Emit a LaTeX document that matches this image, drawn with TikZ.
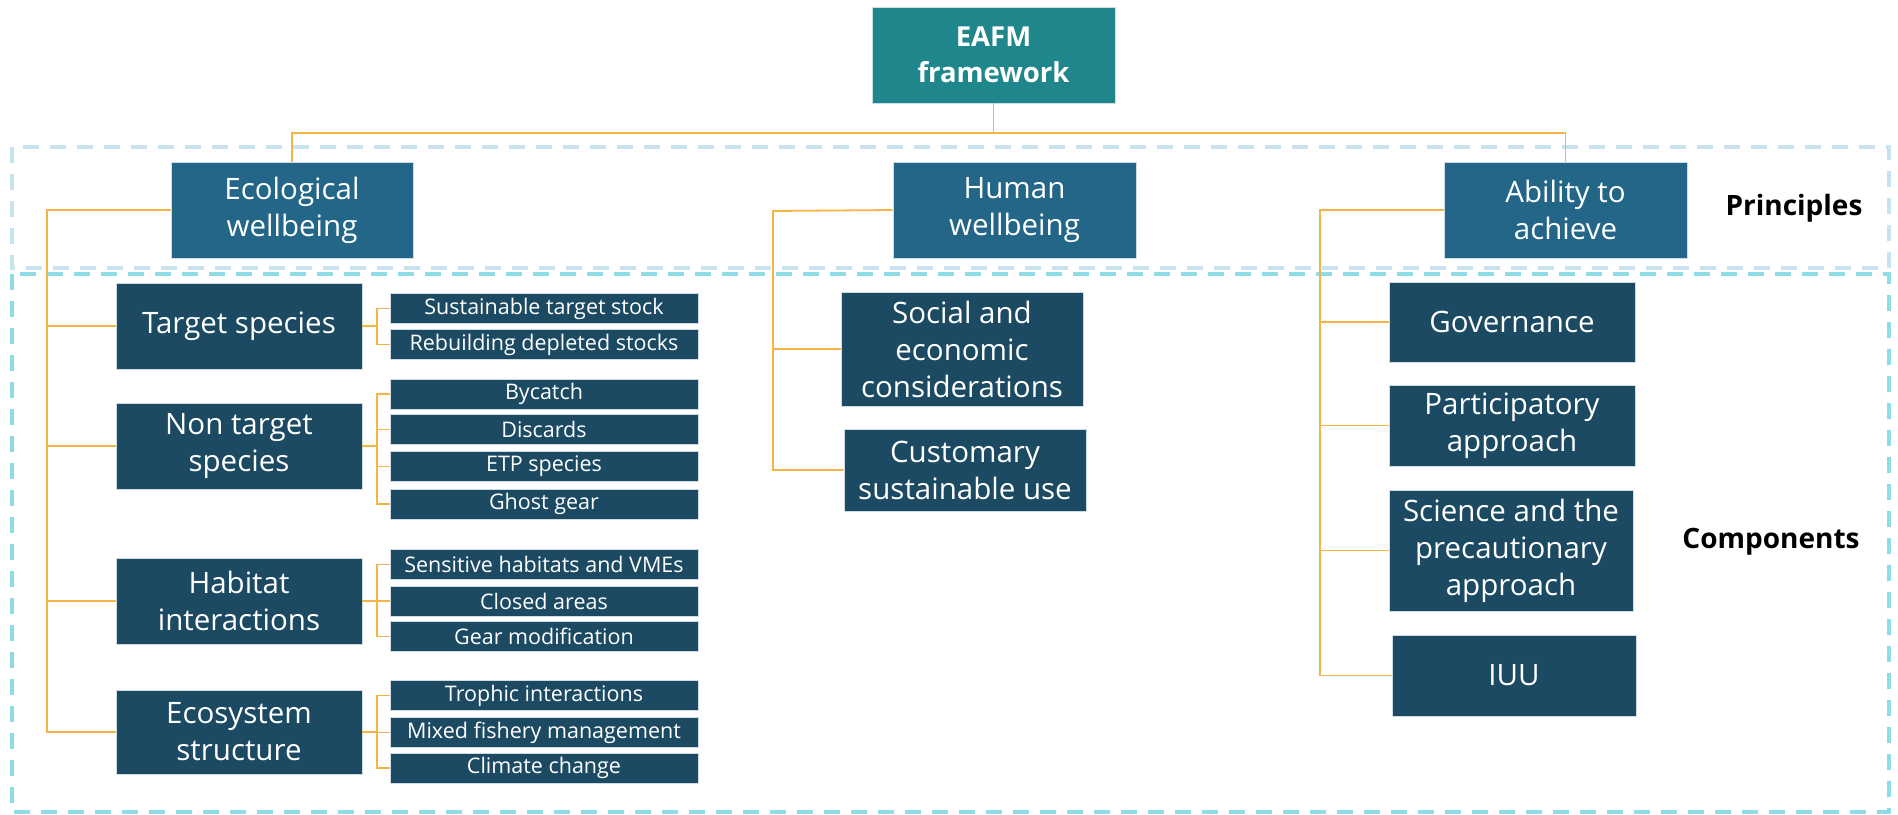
\documentclass[tikz,border=0pt]{standalone}
\usepackage{fontspec}
\setmainfont{Open Sans}
\usetikzlibrary{calc}
\definecolor{teal1}{HTML}{1F868C}
\definecolor{pblue}{HTML}{236688}
\definecolor{cblue}{HTML}{1C4A63}
\definecolor{orng}{HTML}{F7B446}
\definecolor{dashP}{HTML}{C8E2F0}
\definecolor{dashC}{HTML}{8EDCE6}
\definecolor{edge}{HTML}{CFDCE4}
\begin{document}
\begin{tikzpicture}[x=1pt,y=-1pt,
  boxbase/.style={draw=edge,line width=0.8pt,text=white,align=center,inner sep=0pt},
  topbox/.style={boxbase,fill=teal1,font=\fontsize{27.5}{36}\selectfont\bfseries},
  pbox/.style={boxbase,fill=pblue,font=\fontsize{29.5}{37}\selectfont},
  cbox/.style={boxbase,fill=cblue,font=\fontsize{29.5}{37}\selectfont},
  sbox/.style={boxbase,fill=cblue,font=\fontsize{21.5}{24}\selectfont,minimum width=308pt,minimum height=30pt},
  link/.style={draw=orng,line width=1.8pt},
  lab/.style={text=black,font=\fontsize{28}{32}\selectfont\bfseries}]
\useasboundingbox (0,0) rectangle (1898,814);
% dashed frames
\draw[dashP,line width=3.5pt,dash pattern=on 16pt off 11pt] (12,147) rectangle (1889,268);
\draw[dashC,line width=3.5pt,dash pattern=on 16pt off 11pt] (12,274) rectangle (1889,812);
% top
\node[topbox,minimum width=243pt,minimum height=96pt] (eafm) at (993.5,55) {EAFM\\framework};
% principles
\node[pbox,minimum width=242pt,minimum height=96pt] (eco) at (292,210) {Ecological\\wellbeing};
\node[pbox,minimum width=243pt,minimum height=96pt] (hum) at (1014.5,210) {Human\\wellbeing};
\node[pbox,minimum width=243pt,minimum height=96pt] (abl) at (1565.5,210) {Ability to\\achieve};
\node[lab] (princ) at (1794,208) {Principles};
\node[lab] (comp) at (1771,542) {Components};
% ecological components
\node[cbox,minimum width=246pt,minimum height=86pt] (t1) at (239,326) {Target species};
\node[cbox,minimum width=246pt,minimum height=86pt] (t2) at (239,446) {Non target\\species};
\node[cbox,minimum width=246pt,minimum height=86pt] (t3) at (239,601) {Habitat\\interactions};
\node[cbox,minimum width=246pt,minimum height=84pt] (t4) at (239,732) {Ecosystem\\structure};
\node[sbox] (s11) at (544,308.5) {Sustainable target stock};
\node[sbox] (s12) at (544,344.5) {Rebuilding depleted stocks};
\node[sbox] (s21) at (544,394) {Bycatch};
\node[sbox] (s22) at (544,429.5) {Discards};
\node[sbox] (s23) at (544,466.5) {ETP species};
\node[sbox] (s24) at (544,504) {Ghost gear};
\node[sbox] (s31) at (544,564.5) {Sensitive habitats and VMEs};
\node[sbox] (s32) at (544,601) {Closed areas};
\node[sbox] (s33) at (544,636.5) {Gear modification};
\node[sbox] (s41) at (544,695.5) {Trophic interactions};
\node[sbox] (s42) at (544,732.5) {Mixed fishery management};
\node[sbox] (s43) at (544,768) {Climate change};
% human components
\node[cbox,minimum width=242pt,minimum height=114pt] (h1) at (962,349) {Social and\\economic\\considerations};
\node[cbox,minimum width=242pt,minimum height=82pt] (h2) at (965,470) {Customary\\sustainable use};
% ability components
\node[cbox,minimum width=246pt,minimum height=80pt] (a1) at (1512,322) {Governance};
\node[cbox,minimum width=246pt,minimum height=81pt] (a2) at (1512,425.5) {Participatory\\approach};
\node[cbox,minimum width=244pt,minimum height=121pt] (a3) at (1511,550.5) {Science and the\\precautionary\\approach};
\node[cbox,minimum width=244pt,minimum height=81pt] (a4) at (1514,675.5) {IUU};
% connectors top
\coordinate (bar) at (993.5,133);
\draw[link] (eafm.south) -- (bar);
\draw[link] (eco.north) -- (eco.north |- bar) -- (abl.north |- bar) -- (abl.north);
% ecological trunk
\coordinate (ecoL) at (47,210);
\draw[link] (eco.west) -- (ecoL) -- (ecoL |- t4.west) -- (t4.west);
\foreach \n in {t1,t2,t3} \draw[link] (ecoL |- \n.west) -- (\n.west);
% brackets
\coordinate (br) at (377,0);
\draw[link] (t1.east) -- (br |- t1.east);
\draw[link] (s11.west) -- (br |- s11.west) -- (br |- s12.west) -- (s12.west);
\draw[link] (t2.east) -- (br |- t2.east);
\draw[link] (s21.west) -- (br |- s21.west) -- (br |- s24.west) -- (s24.west);
\foreach \n in {s22,s23} \draw[link] (br |- \n.west) -- (\n.west);
\draw[link] (t3.east) -- (br |- t3.east);
\draw[link] (s31.west) -- (br |- s31.west) -- (br |- s33.west) -- (s33.west);
\draw[link] (br |- s32.west) -- (s32.west);
\draw[link] (t4.east) -- (br |- t4.east);
\draw[link] (s41.west) -- (br |- s41.west) -- (br |- s43.west) -- (s43.west);
\draw[link] (br |- s42.west) -- (s42.west);
% human trunk
\coordinate (humL) at (773,211);
\draw[link] (hum.west) -- (humL) -- (humL |- h2.west) -- (h2.west);
\draw[link] (humL |- h1.west) -- (h1.west);
% ability trunk
\coordinate (ablL) at (1320,210);
\draw[link] (abl.west) -- (ablL) -- (ablL |- a4.west) -- (a4.west);
\foreach \n in {a1,a2,a3} \draw[link] (ablL |- \n.west) -- (\n.west);
\end{tikzpicture}
\end{document}
